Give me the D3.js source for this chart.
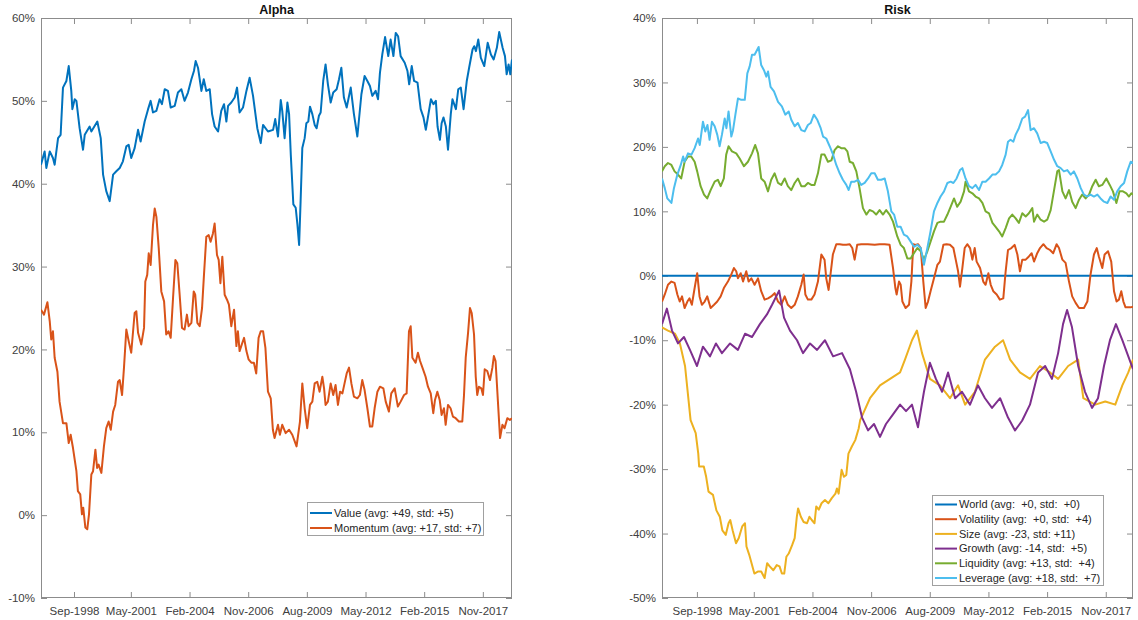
<!DOCTYPE html>
<html>
<head>
<meta charset="utf-8">
<script src="https://cdn.jsdelivr.net/npm/d3@7"></script>
<style>
  html, body { margin: 0; padding: 0; background: #ffffff; }
  svg { display: block; font-family: "Liberation Sans", Arial, Helvetica, sans-serif; }
  .leg text { white-space: pre; }
</style>
</head>
<body>
<svg id="chart" width="1138" height="620"></svg>
<script>
// ---- shared axis ticks (decimal years) ----
const tickDates = [1998.667, 2001.333, 2004.083, 2006.833, 2009.583, 2012.333, 2015.083, 2017.833];
const tickLabels = ["Sep-1998", "May-2001", "Feb-2004", "Nov-2006", "Aug-2009", "May-2012", "Feb-2015", "Nov-2017"];
const alphaTicks = [-10, 0, 10, 20, 30, 40, 50, 60];
const riskTicks = [-50, -40, -30, -20, -10, 0, 10, 20, 30, 40];

// ---- Alpha panel series: [year, percent] ----
const value = [
  [1997.12,42.3],[1997.29,43.9],[1997.37,41.9],[1997.53,43.9],[1997.68,43.1],[1997.76,42.3],[1997.92,45.5],[1998.04,45.9],
  [1998.15,51.6],[1998.31,52.4],[1998.42,54.2],[1998.54,51.2],[1998.59,49.0],[1998.70,50.2],[1998.78,50.0],[1998.93,46.7],
  [1999.09,44.1],[1999.17,45.9],[1999.40,46.9],[1999.48,46.3],[1999.76,47.5],[1999.92,45.5],[2000.03,41.1],[2000.18,39.1],
  [2000.34,37.9],[2000.50,41.1],[2000.65,41.5],[2000.81,41.9],[2000.96,42.7],[2001.12,44.5],[2001.23,44.7],[2001.35,43.1],
  [2001.51,44.3],[2001.67,46.5],[2001.79,45.1],[2001.98,47.5],[2002.14,49.0],[2002.26,50.0],[2002.37,48.6],[2002.53,48.8],
  [2002.68,50.2],[2002.79,49.6],[2002.92,51.4],[2003.07,51.2],[2003.20,49.2],[2003.39,49.4],[2003.54,51.0],[2003.70,51.4],
  [2003.85,50.0],[2004.01,51.0],[2004.17,52.6],[2004.29,53.6],[2004.37,54.8],[2004.48,54.0],[2004.64,51.2],[2004.75,52.6],
  [2004.87,51.2],[2005.03,51.4],[2005.14,48.4],[2005.26,46.9],[2005.42,46.3],[2005.57,48.8],[2005.70,49.6],[2005.81,47.5],
  [2005.89,49.4],[2006.04,49.8],[2006.20,50.4],[2006.31,51.6],[2006.43,48.6],[2006.59,49.2],[2006.75,51.2],[2006.90,52.8],
  [2007.06,50.6],[2007.26,46.7],[2007.42,44.9],[2007.53,47.1],[2007.76,46.3],[2008.00,46.5],[2008.10,47.8],[2008.23,45.7],
  [2008.36,50.1],[2008.43,48.8],[2008.54,45.5],[2008.67,49.8],[2008.75,48.4],[2008.83,43.5],[2008.95,37.5],[2009.06,37.1],
  [2009.14,35.1],[2009.22,32.6],[2009.29,37.9],[2009.37,44.3],[2009.48,45.5],[2009.56,47.3],[2009.65,47.5],[2009.73,49.3],
  [2009.84,48.4],[2009.95,47.1],[2010.04,46.7],[2010.15,48.2],[2010.23,48.6],[2010.35,52.4],[2010.46,54.4],[2010.57,52.0],
  [2010.70,49.8],[2010.82,51.0],[2010.98,51.4],[2011.09,52.6],[2011.20,54.0],[2011.32,50.4],[2011.45,49.2],[2011.64,51.6],
  [2011.79,48.4],[2011.95,45.7],[2012.14,50.8],[2012.29,53.0],[2012.42,52.4],[2012.54,51.8],[2012.65,50.6],[2012.81,51.2],
  [2012.92,50.2],[2013.01,53.4],[2013.12,55.6],[2013.25,57.7],[2013.40,55.4],[2013.51,57.4],[2013.64,55.4],[2013.75,58.2],
  [2013.86,57.8],[2013.98,55.4],[2014.17,54.6],[2014.30,53.6],[2014.38,52.0],[2014.50,54.2],[2014.61,52.4],[2014.77,52.2],
  [2014.92,49.0],[2015.05,48.0],[2015.16,46.5],[2015.27,48.2],[2015.40,50.2],[2015.52,49.6],[2015.63,50.0],[2015.71,46.9],
  [2015.82,45.3],[2015.90,47.3],[2015.99,48.0],[2016.10,46.9],[2016.20,44.1],[2016.33,48.4],[2016.41,50.2],[2016.57,49.0],
  [2016.68,51.4],[2016.80,51.6],[2016.93,49.0],[2017.08,52.4],[2017.19,54.0],[2017.35,56.2],[2017.43,56.6],[2017.51,56.0],
  [2017.62,57.4],[2017.74,55.2],[2017.90,54.2],[2018.06,57.0],[2018.21,55.6],[2018.34,55.0],[2018.49,56.4],[2018.60,58.3],
  [2018.76,56.4],[2018.87,55.4],[2018.95,53.2],[2019.04,54.4],[2019.12,53.2],[2019.20,55.0]
];
const momentum = [
  [1997.12,24.8],[1997.26,24.2],[1997.42,25.7],[1997.53,23.4],[1997.60,21.2],[1997.68,22.2],[1997.76,19.0],[1997.89,17.3],
  [1997.99,13.7],[1998.15,11.1],[1998.31,11.1],[1998.42,8.7],[1998.51,9.7],[1998.62,8.1],[1998.78,5.3],[1998.85,2.9],
  [1998.96,2.5],[1999.04,0.1],[1999.10,0.9],[1999.20,-1.5],[1999.29,-1.7],[1999.37,0.1],[1999.48,4.9],[1999.56,5.3],
  [1999.67,7.9],[1999.75,5.7],[1999.82,6.1],[1999.95,5.1],[2000.07,8.3],[2000.18,10.5],[2000.29,11.3],[2000.39,10.3],
  [2000.50,12.5],[2000.60,13.3],[2000.73,16.1],[2000.81,16.3],[2000.92,14.5],[2001.01,17.8],[2001.12,22.4],[2001.23,21.0],
  [2001.35,19.6],[2001.51,24.4],[2001.59,24.6],[2001.67,22.0],[2001.82,20.6],[2001.95,22.6],[2002.01,28.2],[2002.10,29.0],
  [2002.17,31.6],[2002.26,30.2],[2002.37,35.0],[2002.45,37.0],[2002.53,36.0],[2002.64,32.2],[2002.76,27.0],[2002.89,25.8],
  [2002.99,21.8],[2003.10,22.2],[2003.20,21.4],[2003.31,26.2],[2003.42,30.8],[2003.51,30.4],[2003.62,26.6],[2003.73,22.6],
  [2003.85,22.4],[2003.96,24.2],[2004.04,22.8],[2004.17,23.2],[2004.28,27.0],[2004.35,26.6],[2004.45,23.2],[2004.56,22.8],
  [2004.67,25.0],[2004.76,29.0],[2004.87,33.6],[2004.98,33.8],[2005.07,33.0],[2005.18,34.0],[2005.26,35.2],[2005.37,31.4],
  [2005.45,30.8],[2005.53,28.0],[2005.62,31.2],[2005.73,26.6],[2005.84,26.0],[2005.93,25.4],[2006.04,22.8],[2006.17,24.8],
  [2006.28,20.4],[2006.35,22.2],[2006.43,19.8],[2006.56,20.8],[2006.64,21.4],[2006.75,19.8],[2006.85,18.8],[2006.98,18.4],
  [2007.10,18.4],[2007.21,17.1],[2007.32,21.4],[2007.42,22.2],[2007.53,22.2],[2007.64,20.2],[2007.76,14.9],[2007.89,14.1],
  [2007.99,10.3],[2008.07,9.3],[2008.23,10.9],[2008.32,9.7],[2008.43,10.9],[2008.59,9.9],[2008.75,10.3],[2008.90,9.7],
  [2009.10,8.3],[2009.26,11.3],[2009.37,15.9],[2009.48,12.9],[2009.60,10.5],[2009.73,13.3],[2009.84,13.7],[2009.95,15.9],
  [2010.07,16.1],[2010.18,14.9],[2010.31,16.7],[2010.39,15.3],[2010.46,13.3],[2010.57,13.7],[2010.70,15.9],[2010.82,14.5],
  [2010.93,15.7],[2011.04,13.3],[2011.14,14.9],[2011.25,14.7],[2011.35,15.9],[2011.45,17.1],[2011.56,17.8],[2011.67,15.9],
  [2011.79,14.3],[2011.95,14.1],[2012.07,14.5],[2012.18,16.3],[2012.29,15.1],[2012.42,12.9],[2012.54,10.7],[2012.65,10.7],
  [2012.76,12.9],[2012.89,14.9],[2013.01,15.5],[2013.17,15.3],[2013.28,13.7],[2013.43,12.5],[2013.54,14.7],[2013.70,15.3],
  [2013.85,13.1],[2013.98,13.7],[2014.14,14.5],[2014.26,14.7],[2014.37,22.2],[2014.45,22.8],[2014.53,19.0],[2014.68,18.4],
  [2014.79,19.6],[2014.89,18.6],[2015.03,17.6],[2015.15,16.7],[2015.26,15.5],[2015.39,14.7],[2015.51,12.3],[2015.59,13.9],
  [2015.70,14.9],[2015.81,13.9],[2015.90,12.1],[2016.01,12.9],[2016.09,10.9],[2016.20,13.3],[2016.32,12.9],[2016.43,11.9],
  [2016.56,11.7],[2016.71,11.3],[2016.87,11.3],[2016.95,14.5],[2017.03,19.0],[2017.14,22.0],[2017.23,25.0],[2017.31,24.4],
  [2017.42,21.8],[2017.50,16.7],[2017.57,14.5],[2017.65,15.5],[2017.76,15.3],[2017.84,14.5],[2017.92,17.6],[2018.04,17.4],
  [2018.17,16.3],[2018.28,17.8],[2018.35,19.2],[2018.43,18.6],[2018.54,13.7],[2018.64,9.3],[2018.75,10.9],[2018.85,10.5],
  [2018.98,11.7],[2019.10,11.5],[2019.20,11.7]
];

// ---- Risk panel series: [year, percent] ----
const world = [[1997.03,0],[2019.11,0]];
const volatility = [
  [1997.03,-4.0],[1997.16,-2.9],[1997.31,-1.4],[1997.47,-0.9],[1997.62,-1.1],[1997.75,-2.9],[1997.86,-4.0],[1997.97,-3.2],
  [1998.09,-5.0],[1998.22,-4.0],[1998.32,-3.5],[1998.43,-4.5],[1998.56,-1.9],[1998.68,0.4],[1998.79,-3.2],[1998.90,-4.5],
  [1999.03,-4.0],[1999.15,-3.2],[1999.31,-5.0],[1999.47,-4.5],[1999.62,-4.0],[1999.78,-3.2],[1999.93,-1.9],[2000.12,-0.9],
  [2000.28,0.2],[2000.40,1.2],[2000.51,0.7],[2000.59,-0.4],[2000.72,0.4],[2000.83,-0.9],[2000.98,0.7],[2001.09,-0.9],
  [2001.22,-0.4],[2001.37,-1.4],[2001.53,-0.4],[2001.68,-2.4],[2001.84,-3.7],[2002.00,-3.5],[2002.15,-3.2],[2002.31,-2.7],
  [2002.47,-4.0],[2002.62,-4.5],[2002.78,-3.2],[2002.93,-4.5],[2003.09,-5.0],[2003.25,-4.5],[2003.40,-3.2],[2003.56,-1.4],
  [2003.67,0.2],[2003.75,-2.9],[2003.87,-3.7],[2004.03,-3.7],[2004.18,-2.9],[2004.34,-0.9],[2004.50,3.3],[2004.65,2.5],
  [2004.73,-0.4],[2004.84,-2.2],[2004.93,0.2],[2005.04,3.3],[2005.20,4.9],[2005.36,4.9],[2005.51,4.8],[2005.67,4.8],
  [2005.83,4.9],[2005.95,4.3],[2006.06,2.5],[2006.18,4.8],[2006.37,4.9],[2006.68,4.9],[2007.00,4.8],[2007.23,4.9],
  [2007.47,4.9],[2007.70,4.8],[2007.86,1.2],[2007.97,-1.9],[2008.03,-2.9],[2008.14,-0.9],[2008.22,-1.4],[2008.30,-4.0],
  [2008.45,-5.0],[2008.61,-4.5],[2008.72,-0.9],[2008.81,4.9],[2008.92,4.8],[2009.03,4.9],[2009.16,4.3],[2009.28,-0.9],
  [2009.39,-5.0],[2009.50,-4.0],[2009.62,-2.4],[2009.78,-0.4],[2009.94,1.7],[2010.06,2.2],[2010.22,4.8],[2010.37,4.9],
  [2010.53,4.8],[2010.69,4.3],[2010.80,2.5],[2010.91,0.7],[2011.00,-1.7],[2011.11,1.2],[2011.22,4.3],[2011.34,4.9],
  [2011.47,4.3],[2011.58,2.5],[2011.69,4.3],[2011.78,2.2],[2011.94,1.2],[2012.09,-0.9],[2012.20,-1.4],[2012.33,0.4],
  [2012.44,-1.4],[2012.56,-2.4],[2012.72,-2.9],[2012.87,-3.7],[2013.03,-3.5],[2013.14,0.7],[2013.25,4.0],[2013.41,4.3],
  [2013.56,4.8],[2013.69,3.3],[2013.81,0.7],[2013.92,2.5],[2014.08,2.5],[2014.23,3.0],[2014.36,3.5],[2014.47,2.2],
  [2014.62,3.5],[2014.75,4.3],[2014.91,4.9],[2015.06,4.3],[2015.22,4.0],[2015.37,3.5],[2015.53,4.9],[2015.64,4.3],
  [2015.80,2.5],[2015.95,2.0],[2016.11,-0.9],[2016.26,-3.2],[2016.42,-4.2],[2016.58,-5.0],[2016.81,-5.0],[2016.97,-4.0],
  [2017.12,0.2],[2017.28,3.3],[2017.41,4.3],[2017.51,3.0],[2017.67,1.2],[2017.78,3.3],[2017.94,3.8],[2018.09,2.2],
  [2018.22,-2.4],[2018.34,-4.0],[2018.45,-3.7],[2018.56,-2.4],[2018.66,-4.0],[2018.76,-4.9],[2019.00,-4.9],[2019.11,-4.8]
];
const size = [
  [1997.03,-8.0],[1997.31,-8.5],[1997.64,-9.0],[1997.87,-10.5],[1998.11,-14.0],[1998.37,-22.4],[1998.61,-24.4],[1998.73,-27.6],
  [1998.77,-29.6],[1998.99,-29.6],[1999.10,-31.2],[1999.21,-33.5],[1999.42,-34.0],[1999.58,-36.4],[1999.74,-37.4],[1999.86,-39.5],
  [2000.02,-40.2],[2000.15,-38.4],[2000.23,-37.9],[2000.34,-39.5],[2000.50,-41.5],[2000.63,-40.7],[2000.79,-38.9],[2000.92,-38.4],
  [2000.99,-42.0],[2001.12,-43.3],[2001.36,-46.2],[2001.52,-45.9],[2001.68,-45.9],[2001.84,-46.9],[2001.96,-44.6],[2002.08,-45.1],
  [2002.25,-45.7],[2002.41,-44.9],[2002.54,-45.1],[2002.65,-46.2],[2002.76,-46.2],[2002.86,-43.6],[2002.97,-43.1],[2003.13,-41.8],
  [2003.25,-40.7],[2003.35,-37.4],[2003.41,-36.1],[2003.54,-37.4],[2003.67,-38.2],[2003.83,-38.4],[2003.94,-37.4],[2004.05,-37.9],
  [2004.18,-38.4],[2004.26,-35.8],[2004.38,-36.3],[2004.51,-35.3],[2004.67,-34.8],[2004.83,-35.3],[2004.99,-34.5],[2005.16,-33.8],
  [2005.23,-33.0],[2005.31,-33.8],[2005.45,-30.1],[2005.56,-31.2],[2005.67,-30.9],[2005.77,-27.6],[2005.93,-26.5],[2006.09,-25.5],
  [2006.25,-23.7],[2006.32,-22.4],[2006.78,-19.0],[2007.25,-17.0],[2007.72,-16.0],[2008.19,-15.0],[2008.42,-13.0],[2008.75,-10.0],
  [2008.98,-8.5],[2009.22,-12.0],[2009.59,-16.0],[2010.06,-17.0],[2010.53,-19.0],[2010.91,-17.0],[2011.24,-20.0],[2011.70,-18.0],
  [2012.17,-13.0],[2012.64,-11.0],[2013.02,-10.0],[2013.35,-13.0],[2013.81,-15.0],[2014.28,-16.0],[2014.75,-14.0],[2015.22,-15.0],
  [2015.60,-16.0],[2016.07,-14.0],[2016.54,-13.0],[2016.78,-19.0],[2017.34,-20.0],[2017.81,-19.5],[2018.28,-20.0],[2018.61,-17.0],
  [2018.89,-15.0],[2019.11,-13.0]
];
const growth = [
  [1997.03,-7.5],[1997.26,-5.1],[1997.50,-8.5],[1997.78,-10.5],[1998.06,-9.5],[1998.34,-11.5],[1998.67,-14.0],[1998.95,-11.0],
  [1999.28,-12.5],[1999.56,-10.5],[1999.84,-12.0],[2000.22,-10.5],[2000.59,-11.5],[2000.92,-9.0],[2001.25,-9.5],[2001.62,-7.5],
  [2001.95,-6.0],[2002.19,-4.5],[2002.52,-2.3],[2002.75,-6.5],[2003.03,-8.5],[2003.36,-10.0],[2003.64,-12.0],[2003.97,-10.5],
  [2004.30,-11.5],[2004.67,-10.0],[2005.05,-12.5],[2005.47,-12.0],[2005.84,-14.5],[2006.13,-18.0],[2006.41,-22.0],[2006.69,-24.0],
  [2006.97,-23.0],[2007.25,-25.0],[2007.53,-23.0],[2007.86,-21.5],[2008.19,-20.0],[2008.47,-21.0],[2008.75,-20.0],[2009.03,-23.5],
  [2009.31,-18.0],[2009.59,-13.5],[2009.87,-16.0],[2010.16,-18.0],[2010.44,-15.0],[2010.77,-19.0],[2011.09,-18.0],[2011.47,-20.0],
  [2011.84,-17.0],[2012.17,-19.0],[2012.50,-20.5],[2012.88,-19.0],[2013.25,-22.0],[2013.58,-24.0],[2013.91,-22.5],[2014.28,-20.0],
  [2014.66,-15.0],[2014.99,-14.0],[2015.31,-16.0],[2015.60,-12.0],[2015.83,-7.5],[2016.02,-5.3],[2016.25,-8.0],[2016.54,-14.0],
  [2016.86,-18.0],[2017.19,-20.5],[2017.47,-19.0],[2017.75,-14.0],[2018.03,-10.0],[2018.31,-7.5],[2018.61,-10.0],[2018.89,-12.5],
  [2019.11,-14.5]
];
const liquidity = [
  [1997.03,16.2],[1997.16,17.0],[1997.31,17.5],[1997.47,17.2],[1997.62,16.2],[1997.78,15.7],[1997.93,15.1],[1998.09,17.7],
  [1998.25,18.5],[1998.40,18.5],[1998.56,17.7],[1998.68,16.2],[1998.84,13.9],[1999.00,12.6],[1999.15,12.0],[1999.31,13.3],
  [1999.50,14.6],[1999.65,14.9],[1999.78,13.9],[1999.93,15.1],[2000.04,18.8],[2000.15,20.1],[2000.31,19.3],[2000.51,19.0],
  [2000.67,18.2],[2000.87,17.0],[2001.06,17.7],[2001.25,19.0],[2001.40,20.3],[2001.53,19.0],[2001.68,15.1],[2001.84,14.6],
  [2002.00,13.1],[2002.15,14.9],[2002.31,15.9],[2002.47,14.4],[2002.62,14.1],[2002.78,15.1],[2002.93,13.9],[2003.09,13.3],
  [2003.25,14.4],[2003.40,15.1],[2003.56,13.9],[2003.72,13.9],[2003.87,14.4],[2004.03,14.1],[2004.18,14.1],[2004.34,15.9],
  [2004.50,18.8],[2004.65,18.8],[2004.81,17.7],[2004.97,17.9],[2005.12,19.5],[2005.28,20.1],[2005.43,19.8],[2005.59,19.8],
  [2005.72,19.3],[2005.83,17.7],[2005.98,17.5],[2006.14,16.2],[2006.29,13.6],[2006.45,10.5],[2006.61,9.5],[2006.76,10.2],
  [2006.92,10.0],[2007.07,9.5],[2007.23,10.2],[2007.39,9.5],[2007.54,10.2],[2007.70,9.5],[2007.86,8.4],[2008.06,6.1],
  [2008.22,4.8],[2008.37,4.3],[2008.53,2.7],[2008.69,2.7],[2008.84,3.5],[2009.00,4.3],[2009.16,3.8],[2009.31,2.5],
  [2009.47,3.8],[2009.62,5.3],[2009.78,6.9],[2009.94,8.2],[2010.09,8.4],[2010.25,8.4],[2010.41,9.5],[2010.56,10.7],
  [2010.72,12.0],[2010.87,10.7],[2011.03,11.5],[2011.19,13.1],[2011.26,14.6],[2011.42,13.1],[2011.58,12.8],[2011.73,12.3],
  [2011.89,12.0],[2012.05,11.3],[2012.20,10.0],[2012.36,9.7],[2012.52,8.2],[2012.67,7.6],[2012.83,6.9],[2012.98,6.1],
  [2013.14,7.4],[2013.30,8.9],[2013.45,9.5],[2013.61,8.9],[2013.76,8.2],[2013.92,9.7],[2014.08,9.2],[2014.23,9.7],
  [2014.39,10.5],[2014.47,8.4],[2014.62,9.5],[2014.78,8.7],[2014.94,8.4],[2015.09,8.7],[2015.25,10.2],[2015.41,13.3],
  [2015.56,16.2],[2015.64,16.4],[2015.80,13.1],[2015.95,12.0],[2016.11,13.3],[2016.26,11.5],[2016.42,10.5],[2016.58,11.8],
  [2016.73,12.6],[2016.89,12.0],[2017.05,12.6],[2017.20,13.9],[2017.36,14.9],[2017.51,13.9],[2017.67,14.1],[2017.86,15.1],
  [2018.02,14.1],[2018.17,13.1],[2018.33,11.3],[2018.48,13.1],[2018.64,13.1],[2018.80,12.8],[2018.92,12.3],[2019.03,12.8],
  [2019.11,12.6]
];
const leverage = [
  [1997.03,15.1],[1997.16,13.6],[1997.28,12.0],[1997.47,11.3],[1997.59,13.6],[1997.75,15.7],[1997.91,17.2],[1998.02,18.5],
  [1998.09,17.7],[1998.25,19.0],[1998.41,18.8],[1998.56,19.8],[1998.72,21.3],[1998.80,20.3],[1998.95,23.9],[1999.06,22.4],
  [1999.16,23.4],[1999.26,21.1],[1999.37,23.9],[1999.50,23.2],[1999.62,21.9],[1999.73,20.1],[1999.84,21.9],[1999.97,24.4],
  [2000.05,22.9],[2000.15,25.5],[2000.28,21.6],[2000.36,22.6],[2000.47,25.0],[2000.59,27.5],[2000.75,27.3],[2000.91,27.3],
  [2001.03,31.4],[2001.14,32.5],[2001.25,34.3],[2001.37,34.3],[2001.45,34.8],[2001.56,35.5],[2001.68,32.7],[2001.81,31.9],
  [2001.92,30.9],[2002.00,31.7],[2002.12,29.3],[2002.28,28.6],[2002.47,27.0],[2002.65,26.3],[2002.81,25.0],[2002.97,25.5],
  [2003.09,24.2],[2003.25,23.2],[2003.40,23.7],[2003.56,22.6],[2003.72,22.4],[2003.87,23.4],[2004.00,23.7],[2004.15,25.0],
  [2004.31,24.2],[2004.47,22.9],[2004.58,21.6],[2004.73,21.3],[2004.89,20.1],[2005.05,18.8],[2005.20,17.2],[2005.36,15.9],
  [2005.51,14.9],[2005.67,14.1],[2005.78,13.3],[2005.90,14.6],[2006.06,14.6],[2006.22,14.9],[2006.37,14.1],[2006.53,14.4],
  [2006.69,15.1],[2006.84,15.9],[2007.00,15.9],[2007.15,14.9],[2007.31,14.9],[2007.47,15.1],[2007.62,13.1],[2007.78,10.0],
  [2007.91,9.5],[2008.06,7.6],[2008.22,7.6],[2008.37,6.4],[2008.53,6.1],[2008.69,5.3],[2008.84,4.5],[2009.00,4.8],
  [2009.16,4.3],[2009.31,1.7],[2009.47,4.3],[2009.62,6.9],[2009.78,10.0],[2009.94,11.3],[2010.09,12.3],[2010.25,13.1],
  [2010.41,14.4],[2010.56,14.6],[2010.69,14.4],[2010.84,15.1],[2011.00,16.4],[2011.11,16.7],[2011.26,15.1],[2011.42,13.9],
  [2011.58,13.6],[2011.73,14.1],[2011.89,13.3],[2012.05,14.6],[2012.20,14.6],[2012.36,15.1],[2012.52,15.7],[2012.67,15.7],
  [2012.83,16.2],[2012.98,17.2],[2013.14,18.8],[2013.25,20.8],[2013.37,21.1],[2013.50,20.8],[2013.61,21.9],[2013.76,22.9],
  [2013.92,24.4],[2014.05,24.7],[2014.19,25.7],[2014.31,22.6],[2014.47,22.9],[2014.62,22.1],[2014.78,20.6],[2014.94,20.8],
  [2015.09,20.6],[2015.25,19.3],[2015.41,18.0],[2015.56,17.0],[2015.72,16.7],[2015.87,16.2],[2016.03,16.4],[2016.19,15.7],
  [2016.34,16.2],[2016.50,15.1],[2016.66,13.6],[2016.81,12.6],[2016.97,12.3],[2017.12,12.6],[2017.28,12.3],[2017.44,12.6],
  [2017.59,12.0],[2017.75,11.5],[2017.91,11.3],[2018.06,12.3],[2018.22,11.8],[2018.37,13.1],[2018.53,13.9],[2018.69,14.4],
  [2018.84,16.2],[2019.00,17.7],[2019.11,17.5]
];

const alphaNames = ["Value (avg: +49, std: +5)", "Momentum (avg: +17, std: +7)"];
const riskNames = [
  "World (avg:  +0, std:  +0)", "Volatility (avg:  +0, std:  +4)", "Size (avg: -23, std: +11)",
  "Growth (avg: -14, std:  +5)", "Liquidity (avg: +13, std:  +4)", "Leverage (avg: +18, std:  +7)"
];
const palette = ["#0072BD", "#D95319", "#EDB120", "#7E2F8E", "#77AC30", "#4DBEEE"];

const svg = d3.select("#chart");
const AXIS = "#8c8c8c", LABEL = "#404040";

function drawPanel(p) {
  const x = d3.scaleLinear().domain(p.xDomain).range([p.left, p.right]);
  const y = d3.scaleLinear().domain(p.yDomain).range([p.bottom, p.top]);
  const g = svg.append("g");

  g.append("clipPath").attr("id", p.id + "-clip")
    .append("rect").attr("x", p.left).attr("y", p.top)
    .attr("width", p.right - p.left).attr("height", p.bottom - p.top);

  // axes box and inward ticks on all four sides
  const bottom = g.append("g").attr("transform", `translate(0,${p.bottom})`)
    .call(d3.axisBottom(x).tickValues(tickDates).tickFormat((d, i) => tickLabels[i]).tickSizeInner(-6).tickSizeOuter(0).tickPadding(9));
  const top = g.append("g").attr("transform", `translate(0,${p.top})`)
    .call(d3.axisTop(x).tickValues(tickDates).tickFormat("").tickSizeInner(-6).tickSizeOuter(0));
  const left = g.append("g").attr("transform", `translate(${p.left},0)`)
    .call(d3.axisLeft(y).tickValues(p.yTicks).tickFormat(d => d + "%").tickSizeInner(-6).tickSizeOuter(0).tickPadding(6));
  const right = g.append("g").attr("transform", `translate(${p.right},0)`)
    .call(d3.axisRight(y).tickValues(p.yTicks).tickFormat("").tickSizeInner(-6).tickSizeOuter(0));
  [bottom, top, left, right].forEach(a => {
    a.select(".domain").remove();
    a.selectAll(".tick line").attr("stroke", AXIS).attr("stroke-width", 1);
    a.selectAll(".tick text").attr("fill", LABEL).style("font-size", "11.5px")
      .style("font-family", '"Liberation Sans", Arial, sans-serif');
  });
  g.append("rect").attr("x", p.left + 0.5).attr("y", p.top + 0.5)
    .attr("width", p.right - p.left - 1).attr("height", p.bottom - p.top - 1)
    .attr("fill", "none").attr("stroke", AXIS).attr("stroke-width", 1);

  // series lines
  const line = d3.line().x(d => x(d[0])).y(d => y(d[1]));
  const lines = g.append("g").attr("clip-path", `url(#${p.id}-clip)`);
  p.series.forEach((s, i) => {
    lines.append("path").datum(s).attr("d", line)
      .attr("fill", "none").attr("stroke", palette[i])
      .attr("stroke-width", 2).attr("stroke-linejoin", "round");
  });

  // title
  g.append("text").attr("x", (p.left + p.right) / 2).attr("y", 14)
    .attr("text-anchor", "middle").attr("font-weight", "bold")
    .attr("font-size", "12.5px").attr("fill", "#111").text(p.title);

  // legend
  const lg = g.append("g").attr("class", "leg");
  lg.append("rect").attr("x", p.legend.x + 0.5).attr("y", p.legend.y + 0.5)
    .attr("width", p.legend.w).attr("height", p.legend.h)
    .attr("fill", "#fff").attr("stroke", "#a0a0a0").attr("stroke-width", 1);
  p.names.forEach((name, i) => {
    const cy = p.legend.y + p.legend.first + i * p.legend.step;
    lg.append("line").attr("x1", p.legend.x + 3).attr("x2", p.legend.x + 25)
      .attr("y1", cy).attr("y2", cy).attr("stroke", palette[i]).attr("stroke-width", 2);
    lg.append("text").attr("x", p.legend.x + 27).attr("y", cy).attr("dy", "0.35em")
      .attr("font-size", "11px").attr("fill", "#262626").text(name);
  });
}

drawPanel({
  id: "alpha", title: "Alpha",
  left: 41, right: 512, top: 18, bottom: 598,
  xDomain: [1997.12, 2019.2], yDomain: [-10, 60], yTicks: alphaTicks,
  series: [value, momentum], names: alphaNames,
  legend: { x: 307, y: 502, w: 176, h: 33, first: 11, step: 15 }
});

drawPanel({
  id: "risk", title: "Risk",
  left: 662, right: 1133, top: 18, bottom: 598,
  xDomain: [1997.03, 2019.11], yDomain: [-50, 40], yTicks: riskTicks,
  series: [world, volatility, size, growth, liquidity, leverage], names: riskNames,
  legend: { x: 932, y: 495, w: 171, h: 90, first: 9.5, step: 14.7 }
});
</script>
</body>
</html>
